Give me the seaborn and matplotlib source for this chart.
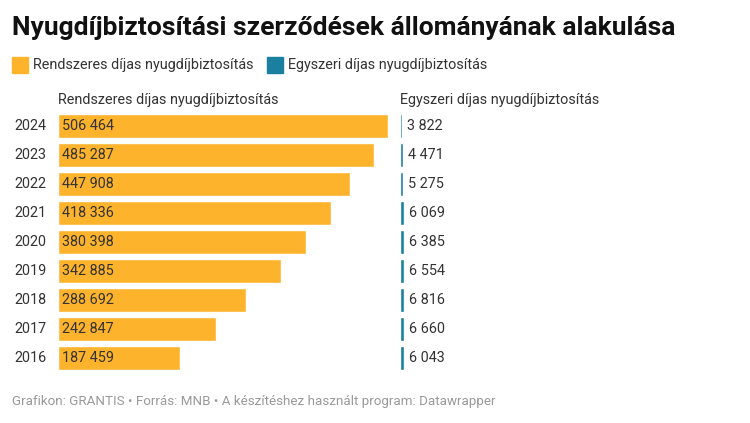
import matplotlib.pyplot as plt
import seaborn as sns
import pandas as pd

years = ["2024", "2023", "2022", "2021", "2020", "2019", "2018", "2017", "2016"]
rendszeres = [506464, 485287, 447908, 418336, 380398, 342885, 288692, 242847, 187459]
egyszeri = [3822, 4471, 5275, 6069, 6385, 6554, 6816, 6660, 6043]

orange = "#fdb32c"
teal = "#1b7fa0"
grey = "#333333"

df = pd.DataFrame({"year": years, "r": rendszeres, "e": egyszeri})

def fmt(v):
    return f"{v:,}".replace(",", " ")

sns.set_style("white")
plt.rcParams["font.family"] = ["Roboto", "DejaVu Sans"]

W, H = 750, 423
fig = plt.figure(figsize=(7.5, 4.23), dpi=100)
top, bot = 112, 372
ax1 = fig.add_axes([58 / W, 1 - bot / H, 330 / W, (bot - top) / H])
ax2 = fig.add_axes([400 / W, 1 - bot / H, 330 / W, (bot - top) / H])

sns.barplot(data=df, y="year", x="r", order=years, color=orange, width=0.83,
            saturation=1, ax=ax1)
sns.barplot(data=df, y="year", x="e", order=years, color=teal, width=0.83,
            saturation=1, ax=ax2)

xmax = max(rendszeres)
for ax in (ax1, ax2):
    ax.set_xlim(0, xmax)
    ax.set_xlabel("")
    ax.set_ylabel("")
    ax.set_xticks([])
    ax.set_yticks([])
    sns.despine(ax=ax, left=True, bottom=True)

fs = 10.4
for i, v in enumerate(rendszeres):
    ax1.text(xmax * 0.012, i, fmt(v), va="center", ha="left", fontsize=fs, color=grey)
    ax1.text(-44 / 330 * xmax, i, years[i], va="center", ha="left", fontsize=fs, color=grey)
for i, v in enumerate(egyszeri):
    ax2.text(v + xmax * 0.014, i, fmt(v), va="center", ha="left", fontsize=fs, color=grey)

fig.text(12 / W, 1 - 28 / H, "Nyugdíjbiztosítási szerződések állományának alakulása",
         fontsize=19, fontweight="bold", va="center", color="#111111")
fig.patches.append(plt.Rectangle((12 / W, 1 - 73 / H), 16 / W, 16 / H, color=orange,
                                 transform=fig.transFigure, figure=fig))
fig.text(33 / W, 1 - 65 / H, "Rendszeres díjas nyugdíjbiztosítás", fontsize=fs,
         va="center", color=grey)
fig.patches.append(plt.Rectangle((267 / W, 1 - 73 / H), 16 / W, 16 / H, color=teal,
                                 transform=fig.transFigure, figure=fig))
fig.text(288 / W, 1 - 65 / H, "Egyszeri díjas nyugdíjbiztosítás", fontsize=fs,
         va="center", color=grey)
fig.text(58 / W, 1 - 100 / H, "Rendszeres díjas nyugdíjbiztosítás", fontsize=fs,
         va="center", color=grey)
fig.text(400 / W, 1 - 100 / H, "Egyszeri díjas nyugdíjbiztosítás", fontsize=fs,
         va="center", color=grey)
fig.text(12 / W, 1 - 401 / H,
         "Grafikon: GRANTIS • Forrás: MNB • A készítéshez használt program: Datawrapper",
         fontsize=9.6, va="center", color="#999999")

fig.savefig("out.png", dpi=100)
